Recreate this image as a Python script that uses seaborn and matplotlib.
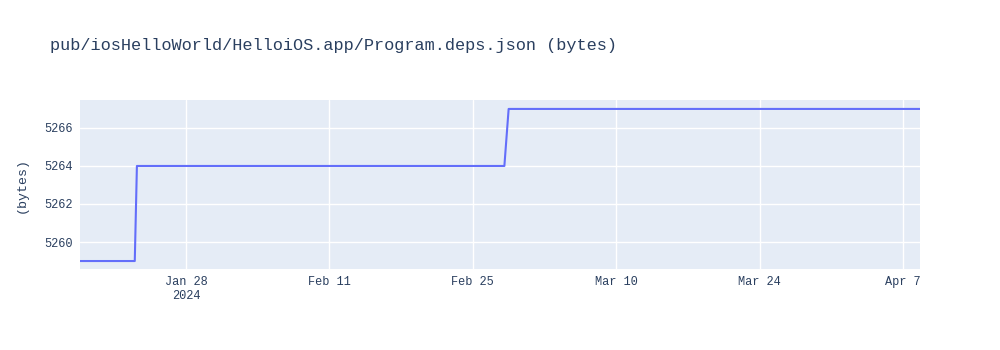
import matplotlib
matplotlib.use("Agg")
import matplotlib.pyplot as plt
import seaborn as sns
import pandas as pd

# Data
dates = ["2024-01-17 15:40", "2024-01-23 00:00", "2024-01-23 05:00",
         "2024-02-28 02:00", "2024-02-28 12:00", "2024-04-08 15:50"]
sizes = [5259, 5259, 5264, 5264, 5267, 5267]
tick_dates = ["2024-01-28", "2024-02-11", "2024-02-25", "2024-03-10", "2024-03-24", "2024-04-07"]
tick_labels = ["Jan 28\n2024", "Feb 11", "Feb 25", "Mar 10", "Mar 24", "Apr 7"]
y_ticks = [5260, 5262, 5264, 5266]
title = "pub/iosHelloWorld/HelloiOS.app/Program.deps.json (bytes)"
ylabel = "(bytes)"

df = pd.DataFrame({"date": pd.to_datetime(dates), "size": sizes})

sns.set_style("darkgrid", {"axes.facecolor": "#e5ecf6", "grid.color": "white"})
plt.rcParams["font.family"] = ["Liberation Mono", "DejaVu Sans Mono"]

fig = plt.figure(figsize=(10, 3.5), dpi=100)
ax = fig.add_axes([0.08, 0.2314, 0.84, 0.4829])
sns.lineplot(data=df, x="date", y="size", ax=ax, color="#636efa", linewidth=1.5)

ax.set_xlim(df["date"].min(), df["date"].max())
ax.set_ylim(5258.58, 5267.47)
ax.set_xticks(pd.to_datetime(tick_dates))
ax.set_xticklabels(tick_labels)
ax.set_yticks(y_ticks)
ax.set_yticklabels([str(v) for v in y_ticks])
ax.tick_params(axis="both", colors="#2a3f5f", labelsize=8.6, length=0, pad=5)
ax.grid(True, color="white", linewidth=1)
for s in ax.spines.values():
    s.set_visible(False)
ax.set_xlabel("")
ax.set_ylabel(ylabel, color="#2a3f5f", fontsize=9.5, labelpad=12)
fig.text(0.05, 0.87, title, color="#2a3f5f", fontsize=12.2, ha="left", va="center")

fig.savefig("out.png", dpi=100)
